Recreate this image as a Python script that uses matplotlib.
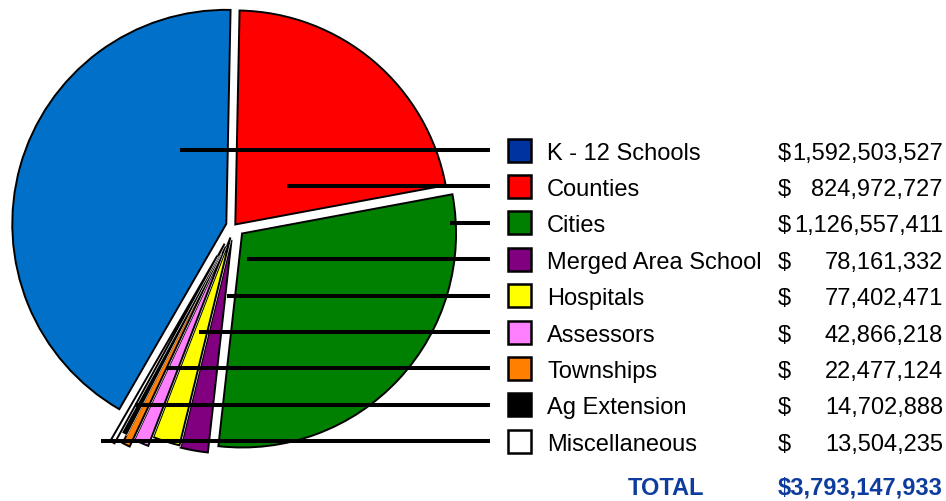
import matplotlib
matplotlib.use("Agg")
import matplotlib.pyplot as plt
from matplotlib.patches import Rectangle
import matplotlib.patheffects as pe

# ---- data ----
categories = ["K - 12 Schools", "Counties", "Cities", "Merged Area School", "Hospitals",
              "Assessors", "Townships", "Ag Extension", "Miscellaneous"]
values = [1592503527, 824972727, 1126557411, 78161332, 77402471,
          42866218, 22477124, 14702888, 13504235]
total_label = "TOTAL"
total_value = 3793147933

# ---- styles / layout ----
pie_colors = ["#0070C8", "#FF0000", "#008000", "#800080", "#FFFF00",
              "#FF80FF", "#FF8000", "#000000", "#FFFFFF"]
legend_colors = ["#0033A0", "#FF0000", "#008000", "#800080", "#FFFF00",
                 "#FF80FF", "#FF8000", "#000000", "#FFFFFF"]
explode_px = [8, 2, 11, 14, 12, 22, 30, 20, 34]
halo_px = [0, 0, 0, 2.2, 2.2, 2.2, 2.2, 2.2, 2.2]
line_start_x = [180, 287, 450, 247, 227, 199, 167, 135, 101]

W, H = 946, 502
R = 214
cx, cy = 234, 227          # pixel coords (y down)
row0, row_step = 151, 36.4
txt_color = "#0D3C9E"
font = "Liberation Sans"
fs = 17


def Y(y):
    return H - y


fig = plt.figure(figsize=(W / 100, H / 100), dpi=100)
ax = fig.add_axes([0, 0, 1, 1])

wedges, _ = ax.pie(values, colors=pie_colors, startangle=240, counterclock=False,
                   radius=R, center=(cx, Y(cy)),
                   explode=explode_px,
                   wedgeprops=dict(edgecolor="black", linewidth=1.4),
                   frame=True)
for w, h in zip(wedges, halo_px):
    if h > 0:
        w.set_path_effects([pe.Stroke(linewidth=h, foreground="white"), pe.Normal()])

ax.set_xlim(0, W)
ax.set_ylim(0, H)
ax.set_aspect("equal")
ax.axis("off")

for i, (cat, val) in enumerate(zip(categories, values)):
    ry = row0 + i * row_step
    # leader line
    ax.plot([line_start_x[i], 490], [Y(ry), Y(ry)], color="black", lw=2.9,
            solid_capstyle="butt", zorder=10)
    # legend square
    ax.add_patch(Rectangle((508, Y(ry + 11.5)), 23, 23, facecolor=legend_colors[i],
                           edgecolor="black", lw=1.8, zorder=10))
    ax.text(547, Y(ry + 8.6), cat, fontsize=fs, family=font, va="baseline",
            ha="left", color="black")
    ax.text(778, Y(ry + 8.6), "$", fontsize=fs, family=font, va="baseline",
            ha="left", color="black")
    ax.text(943, Y(ry + 8.6), f"{val:,}", fontsize=fs, family=font, va="baseline",
            ha="right", color="black")

ax.text(628, Y(494.6), total_label, fontsize=fs, family=font, weight="bold",
        va="baseline", ha="left", color=txt_color)
ax.text(943, Y(494.6), f"${total_value:,}", fontsize=fs, family=font, weight="bold",
        va="baseline", ha="right", color=txt_color)

fig.savefig("out.png", dpi=100)
